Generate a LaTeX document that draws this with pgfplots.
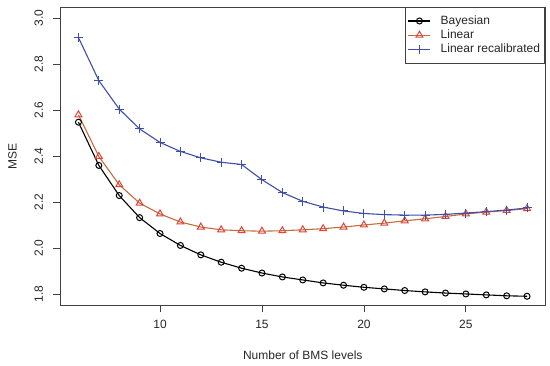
\documentclass[border=0pt]{standalone}
\usepackage{fontspec}
\setmainfont{Liberation Sans}
\usepackage{pgfplots}
\pgfplotsset{compat=1.18}
\definecolor{linred}{HTML}{E0453A}
\definecolor{linline}{HTML}{C46C3C}
\definecolor{linfill}{HTML}{E8C9A0}
\definecolor{recal}{HTML}{3F4FA8}
\begin{document}
\begin{tikzpicture}[x=1pt,y=1pt]
\useasboundingbox (0,0) rectangle (550,365);
\begin{axis}[
  at={(60.5pt,60pt)}, anchor=south west,
  scale only axis, width=484.5pt, height=298pt,
  xmin=5.12, xmax=28.88, ymin=1.752, ymax=3.048,
  xtick={10,15,20,25}, ytick={1.8,2.0,2.2,2.4,2.6,2.8,3.0},
  tick align=outside, major tick length=7pt,
  xtick pos=left, ytick pos=left,
  axis line style={black!75, line width=0.8pt},
  tick style={black!75, line width=0.8pt},
  /pgf/number format/assume math mode=true,
  tick label style={font=\fontsize{12}{14}\selectfont, text=black!85},
  yticklabel style={xshift=-7pt, rotate=90, anchor=south, /pgf/number format/fixed, /pgf/number format/fixed zerofill, /pgf/number format/precision=1},
  xticklabel style={yshift=-5pt},
  xlabel={Number of BMS levels}, ylabel={MSE},
  label style={font=\fontsize{12}{14}\selectfont, text=black!85},
  xlabel style={at={(axis description cs:0.5,-0.170)}, anchor=center},
  ylabel style={at={(axis description cs:-0.0991,0.5)}, anchor=center},
  legend style={at={(1,1)}, anchor=north east, draw=black!75, line width=0.8pt,
    font=\fontsize{12}{13}\selectfont, text=black!85, legend cell align=left,
    inner xsep=2.5pt, inner ysep=6.5pt, row sep=0pt,
    /tikz/every odd column/.append style={column sep=7.7pt}},
  legend image code/.code={\draw[mark repeat=2,mark phase=2,#1] plot coordinates {(0pt,0pt) (11pt,0pt) (22pt,0pt)};},
]
\addplot[black, line width=1.1pt, mark=o, mark size=3pt, mark options={line width=1pt}] coordinates {
(6,2.547)(7,2.359)(8,2.228)(9,2.132)(10,2.063)(11,2.011)(12,1.970)(13,1.938)(14,1.912)(15,1.891)(16,1.874)(17,1.861)(18,1.848)(19,1.838)(20,1.829)(21,1.822)(22,1.815)(23,1.809)(24,1.804)(25,1.800)(26,1.796)(27,1.792)(28,1.790)};
\addlegendentry{Bayesian}
\addplot[linline, line width=1.1pt, mark=triangle, mark size=4pt, mark options={draw=linred, fill=linfill, line width=1pt}] coordinates {
(6,2.579)(7,2.398)(8,2.275)(9,2.195)(10,2.148)(11,2.113)(12,2.091)(13,2.079)(14,2.075)(15,2.073)(16,2.075)(17,2.079)(18,2.084)(19,2.091)(20,2.100)(21,2.108)(22,2.118)(23,2.127)(24,2.137)(25,2.148)(26,2.156)(27,2.163)(28,2.171)};
\addlegendentry{Linear}
\addplot[recal, line width=1.1pt, mark=+, mark size=4.5pt, mark options={line width=1pt}] coordinates {
(6,2.915)(7,2.728)(8,2.604)(9,2.518)(10,2.459)(11,2.420)(12,2.392)(13,2.373)(14,2.363)(15,2.297)(16,2.241)(17,2.203)(18,2.178)(19,2.161)(20,2.150)(21,2.145)(22,2.143)(23,2.143)(24,2.146)(25,2.152)(26,2.158)(27,2.165)(28,2.174)};
\addlegendentry{Linear recalibrated}
\end{axis}
\end{tikzpicture}
\end{document}
